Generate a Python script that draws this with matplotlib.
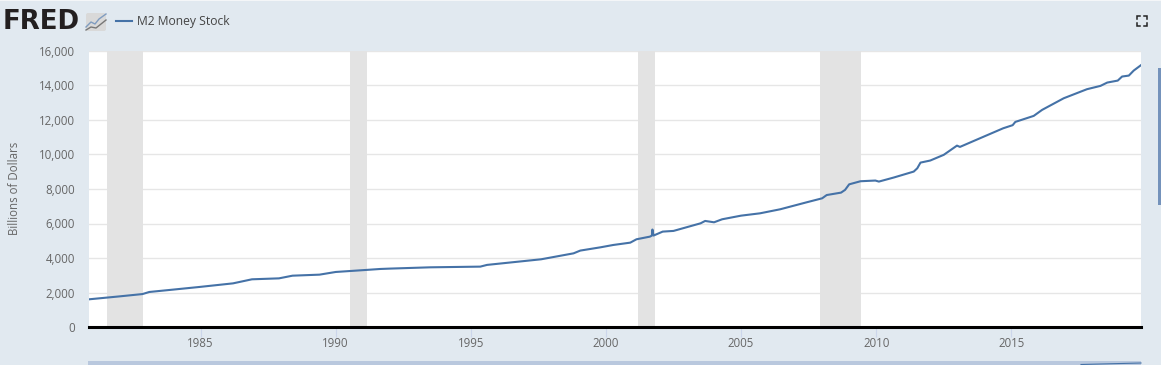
import matplotlib
matplotlib.use('Agg')
import matplotlib.pyplot as plt
from matplotlib.patches import Rectangle, FancyBboxPatch

plt.rcParams['font.family'] = ['Open Sans', 'DejaVu Sans']

# values, billions of dollars
years = [1980.87, 1981.5, 1982.0, 1982.85, 1983.1, 1984.0, 1984.95, 1986.2, 1986.9, 1987.9, 1988.4,
         1989.4, 1990.0, 1991.1, 1991.65, 1992.0, 1993.5, 1995.35, 1995.6, 1997.6, 1998.8, 1999.05,
         1999.8, 2000.27, 2000.9, 2001.13, 2001.63, 2001.7, 2001.72, 2001.76, 2002.1, 2002.5, 2003.5,
         2003.67, 2004.0, 2004.3, 2005.0, 2005.7, 2006.45, 2007.43, 2008.0, 2008.17, 2008.7, 2008.85,
         2009.0, 2009.42, 2009.97, 2010.1, 2010.65, 2011.39, 2011.52, 2011.64, 2012.0, 2012.5, 2012.99,
         2013.1, 2013.78, 2014.7, 2015.05, 2015.15, 2015.83, 2016.14, 2016.94, 2017.8, 2018.3, 2018.55,
         2018.94, 2019.1, 2019.35, 2019.53, 2019.8]
m2 = [1605, 1700, 1775, 1910, 2030, 2170, 2320, 2530, 2765, 2820, 2975,
      3035, 3190, 3305, 3364, 3385, 3460, 3500, 3600, 3925, 4270, 4430,
      4620, 4755, 4890, 5085, 5240, 5300, 5650, 5300, 5530, 5570, 6010,
      6148, 6070, 6245, 6455, 6590, 6825, 7230, 7460, 7650, 7790, 7950,
      8270, 8450, 8490, 8430, 8665, 9010, 9200, 9530, 9650, 9980, 10515,
      10440, 10900, 11520, 11700, 11890, 12238, 12586, 13260, 13785, 13978, 14170,
      14285, 14520, 14575, 14865, 15180]
recessions = [(1981.53, 1982.86), (1990.53, 1991.16), (2001.2, 2001.83), (2007.92, 2009.42)]
y_ticks = [0, 2000, 4000, 6000, 8000, 10000, 12000, 14000, 16000]
x_ticks = [1985, 1990, 1995, 2000, 2005, 2010, 2015]

W, H = 1161, 365
BG = '#e1e9f0'
BLUE = '#4572a7'

fig = plt.figure(figsize=(W / 100, H / 100), dpi=100, facecolor=BG)
ax = fig.add_axes([89 / W, 1 - 327 / H, (1141 - 89) / W, (327 - 51) / H])
ax.set_facecolor('white')

for start, end in recessions:
    ax.axvspan(start, end, color='#e3e3e3', lw=0, zorder=1)
ax.plot(years, m2, color=BLUE, lw=1.5, zorder=3)

ax.set_xlim(1980.87, 2019.8)
ax.set_ylim(0, 16000)
ax.set_yticks(y_ticks)
ax.set_yticklabels([f'{v:,}' for v in y_ticks])
ax.set_xticks(x_ticks)
ax.grid(axis='y', color='#e6e6e6', lw=1, zorder=0)
ax.set_axisbelow(True)
ax.tick_params(axis='y', length=0, pad=10, labelsize=8.3, labelcolor='#666666')
ax.tick_params(axis='x', length=7.5, width=0.8, color='#ccd6eb', pad=0, labelsize=8.3, labelcolor='#666666')
for side in ['top', 'left', 'right']:
    ax.spines[side].set_visible(False)
ax.spines['bottom'].set_color('black')
ax.spines['bottom'].set_linewidth(2.2)
ax.spines['bottom'].set_zorder(5)

# everything around the plot, placed in figure pixels
over = fig.add_axes([0, 0, 1, 1], zorder=10)
over.set_xlim(0, W)
over.set_ylim(H, 0)
over.axis('off')
over.patch.set_alpha(0)

over.add_patch(Rectangle((0, 0), W, 1, color='#f4f6f8', lw=0))
over.add_patch(Rectangle((88, 361), 1053, 4, color='#b9c8de', lw=0))
over.plot([1081, 1141], [364.5, 363], color=BLUE, lw=0.8)
over.add_patch(Rectangle((1158, 68), 3, 137, color='#7492bb', lw=0))

over.text(15, 188.5, 'Billions of Dollars', rotation=90, ha='center', va='center', fontsize=8.3, color='#666666')

# logo
over.text(2.5, 22, 'FRED', ha='left', va='center', fontsize=18.7, fontweight='bold',
          family='DejaVu Sans', color='#231f20')
over.add_patch(FancyBboxPatch((86, 13), 20, 18, boxstyle='round,pad=0,rounding_size=2', fc='#d9d9d9', ec='none'))
over.plot([86, 91, 95, 99, 106], [27, 22, 24, 19, 14], color='#7f9cc0', lw=1)
over.plot([86, 91, 96, 101, 106], [30, 27, 28, 24, 20], color='#777777', lw=1)

# legend
over.plot([116, 132], [21, 21], color=BLUE, lw=1.5)
over.text(137, 21.5, 'M2 Money Stock', ha='left', va='center', fontsize=8.7, color='#444444')

# fullscreen icon
for cx, cy, dx, dy in [(1137, 16, 1, 1), (1147, 16, -1, 1), (1137, 26, 1, -1), (1147, 26, -1, -1)]:
    over.plot([cx + 3 * dx, cx, cx], [cy, cy, cy + 3 * dy], color='#222222', lw=1.1, solid_joinstyle='miter')

fig.savefig('out.png', dpi=100, facecolor=BG)
